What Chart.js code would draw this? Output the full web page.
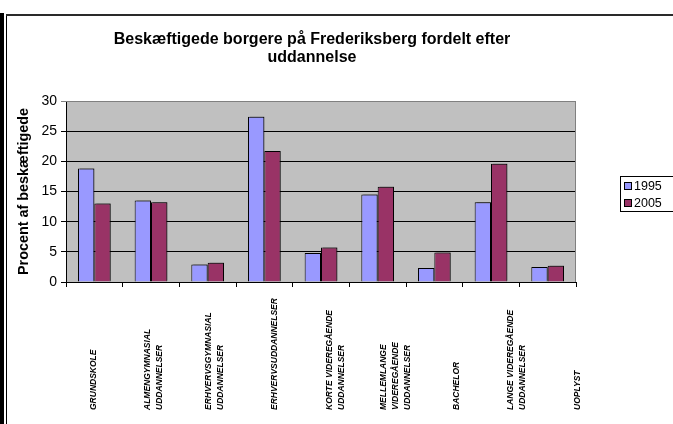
<!DOCTYPE html>
<html>
<head>
<meta charset="utf-8">
<script src="https://cdn.jsdelivr.net/npm/chart.js@4.4.1/dist/chart.umd.min.js"></script>
<style>
  html, body { margin: 0; padding: 0; background: #ffffff; }
  #wrap { width: 673px; height: 424px; position: relative; }
</style>
</head>
<body>
<div id="wrap"><canvas id="c" width="673" height="424"></canvas></div>
<script>
const titleLines = ['Beskæftigede borgere på Frederiksberg fordelt efter', 'uddannelse'];
const yAxisTitle = 'Procent af beskæftigede';
const categories = [
  ['GRUNDSKOLE'],
  ['ALMENGYMNASIAL', 'UDDANNELSER'],
  ['ERHVERVSGYMNASIAL', 'UDDANNELSER'],
  ['ERHVERVSUDDANNELSER'],
  ['KORTE VIDEREGÅENDE', 'UDDANNELSER'],
  ['MELLEMLANGE', 'VIDEREGÅENDE', 'UDDANNELSER'],
  ['BACHELOR'],
  ['LANGE VIDEREGÅENDE', 'UDDANNELSER'],
  ['UOPLYST']
];
const seriesNames = ['1995', '2005'];
const values1995 = [18.8, 13.5, 2.9, 27.4, 4.8, 14.5, 2.3, 13.2, 2.5];
const values2005 = [13.0, 13.2, 3.2, 21.7, 5.7, 15.8, 4.9, 19.6, 2.7];
const yTicks = [0, 5, 10, 15, 20, 25, 30];

const FONT = '"Liberation Sans", Arial, sans-serif';

const framePlugin = {
  id: 'frame',
  beforeDraw(chart) {
    const ctx = chart.ctx, a = chart.chartArea;
    ctx.save();
    ctx.fillStyle = '#ffffff';
    ctx.fillRect(0, 0, chart.width, chart.height);
    ctx.fillStyle = '#000000';
    ctx.fillRect(0, 13, 4, chart.height - 13);
    ctx.fillRect(6, 14, 1, chart.height - 14);
    ctx.fillStyle = '#2a2a2a';
    ctx.fillRect(6, 14, chart.width - 6, 2);
    ctx.fillStyle = '#C0C0C0';
    ctx.fillRect(a.left, a.top, a.right - a.left, a.bottom - a.top);
    ctx.restore();
  },
  beforeDatasetsDraw(chart) {
    const ctx = chart.ctx;
    ctx.save();
    ctx.shadowColor = 'rgba(0,0,0,0.35)';
    ctx.shadowOffsetX = 2;
    ctx.shadowOffsetY = -1;
    ctx.shadowBlur = 0;
  },
  afterDatasetsDraw(chart) {
    chart.ctx.restore();
  },
  afterDraw(chart) {
    const ctx = chart.ctx, a = chart.chartArea;
    ctx.save();
    ctx.strokeStyle = '#808080';
    ctx.lineWidth = 1;
    ctx.beginPath();
    ctx.moveTo(a.left, a.top + 0.5);
    ctx.lineTo(a.right - 0.5, a.top + 0.5);
    ctx.lineTo(a.right - 0.5, a.bottom);
    ctx.stroke();

    // title
    ctx.fillStyle = '#000000';
    ctx.font = 'bold 16px ' + FONT;
    ctx.textAlign = 'center';
    ctx.textBaseline = 'middle';
    titleLines.forEach((t, i) => ctx.fillText(t, 312, 40 + i * 18));

    // category labels (rotated, anchored at bottom)
    const xs = chart.scales.xl;
    ctx.font = 'italic bold 8.5px ' + FONT;
    ctx.textAlign = 'left';
    ctx.textBaseline = 'middle';
    categories.forEach((lines, i) => {
      const cx = xs.getPixelForValue(i);
      const n = lines.length;
      lines.forEach((ln, j) => {
        const x = cx + (j - (n - 1) / 2) * 12;
        ctx.save();
        ctx.translate(x, 410);
        ctx.rotate(-Math.PI / 2);
        ctx.fillText(ln, 0, 0);
        ctx.restore();
      });
    });

    // legend
    ctx.strokeStyle = '#000000';
    ctx.lineWidth = 1;
    ctx.strokeRect(620.5, 176.5, 60, 35);
    ctx.font = '12.5px ' + FONT;
    ctx.textAlign = 'left';
    ctx.textBaseline = 'middle';
    chart.data.datasets.forEach((ds, i) => {
      const y = 186 + i * 17;
      ctx.fillStyle = ds.backgroundColor;
      ctx.fillRect(624, y - 4, 8, 8);
      ctx.strokeRect(624.5, y - 3.5, 7, 7);
      ctx.fillStyle = '#000000';
      ctx.fillText(ds.label, 634, y + 1);
    });
    ctx.restore();
  }
};

new Chart(document.getElementById('c'), {
  type: 'bar',
  data: {
    labels: categories,
    datasets: [
      { label: seriesNames[0], data: values1995, backgroundColor: '#9999FF', borderColor: '#000000', borderWidth: 1 },
      { label: seriesNames[1], data: values2005, backgroundColor: '#993366', borderColor: '#000000', borderWidth: 1 }
    ]
  },
  options: {
    responsive: false,
    animation: false,
    devicePixelRatio: 1,
    layout: { padding: { left: 0, top: 101, right: 97, bottom: 0 } },
    datasets: { bar: { categoryPercentage: 0.577, barPercentage: 1.0 } },
    plugins: { legend: { display: false }, title: { display: false }, tooltip: { enabled: false } },
    scales: {
      x: {
        type: 'category',
        position: 'bottom',
        grid: { offset: true, drawOnChartArea: false, drawTicks: true, tickLength: 5, color: '#000000' },
        border: { color: '#000000', width: 1 },
        ticks: { display: false },
        afterFit: (s) => { s.height = 142; }
      },
      xl: {
        type: 'linear',
        position: 'bottom',
        display: false,
        offset: false,
        grid: { offset: false },
        min: -0.45,
        max: 7.98
      },
      y: {
        min: 0,
        max: 30,
        afterBuildTicks: (s) => { s.ticks = yTicks.map(v => ({ value: v })); },
        grid: {
          color: (c) => (c.tick && c.tick.value === 30 ? '#808080' : '#000000'),
          tickLength: 5,
          lineWidth: 1
        },
        border: { color: '#000000', width: 1 },
        ticks: { color: '#000000', font: { family: FONT, size: 14 }, padding: 4 },
        title: {
          display: true,
          text: yAxisTitle,
          color: '#000000',
          font: { family: FONT, size: 14.4, weight: 'bold' },
          padding: { top: 15, bottom: 0 }
        },
        afterFit: (s) => { s.width = 66; }
      }
    }
  },
  plugins: [framePlugin]
});
</script>
</body>
</html>
